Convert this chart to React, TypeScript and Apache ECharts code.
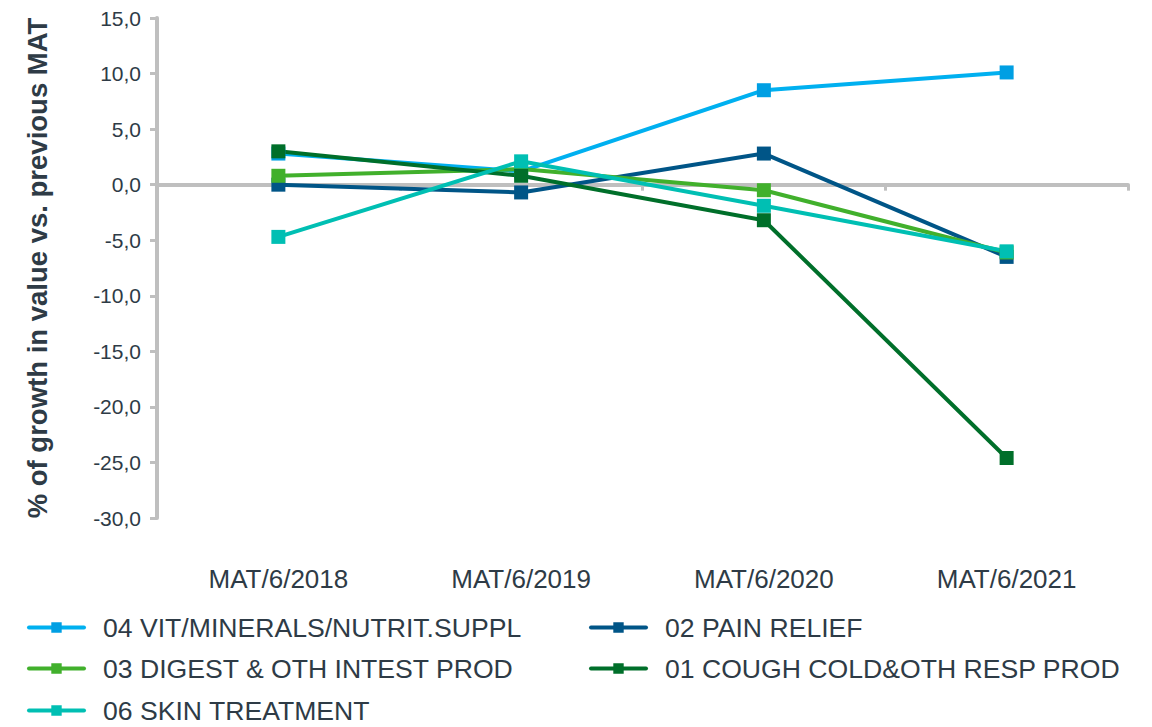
import React, { useEffect, useRef } from 'react';
import * as echarts from 'echarts';

const categories = ['MAT/6/2018', 'MAT/6/2019', 'MAT/6/2020', 'MAT/6/2021'];
const vitMinerals = [2.8, 1.2, 8.5, 10.1];
const painRelief = [0.0, -0.7, 2.8, -6.5];
const digest = [0.8, 1.4, -0.5, -6.1];
const cough = [3.0, 0.8, -3.2, -24.6];
const skin = [-4.7, 2.1, -1.9, -6.0];

const nameVit = '04 VIT/MINERALS/NUTRIT.SUPPL';
const namePain = '02 PAIN RELIEF';
const nameDigest = '03 DIGEST & OTH INTEST PROD';
const nameCough = '01 COUGH COLD&OTH RESP PROD';
const nameSkin = '06 SKIN TREATMENT';

const yTitle = '% of growth in value vs. previous MAT';

const FONT = '"Liberation Sans", Arial, sans-serif';
const TEXT = '#2e3b46';
const AXIS = '#bfbfbf';

export default function App() {
  const ref = useRef<HTMLDivElement>(null);
  useEffect(() => {
    document.body.style.margin = '0';
    if (!ref.current) return;
    const chart = echarts.init(ref.current, undefined, { renderer: 'svg' });
    const mk = (name: string, data: number[], line: string, marker: string) => ({
      name,
      type: 'line',
      data,
      xAxisIndex: 0,
      symbol: 'rect',
      symbolSize: 14,
      lineStyle: { color: line, width: 4 },
      itemStyle: { color: marker },
      emphasis: { disabled: true },
    });
    const legendText = {
      fontFamily: FONT,
      fontSize: 26.6,
      color: TEXT,
      padding: [0, 0, 0, 14],
    };
    const lg = (name: string, left: number, top: number) => ({
      orient: 'horizontal',
      left,
      top,
      padding: 0,
      itemWidth: 55,
      itemHeight: 13,
      lineStyle: { width: 4, cap: 'round' },
      textStyle: legendText,
      data: [name],
      selectedMode: false,
    });
    chart.setOption({
      animation: false,
      textStyle: { fontFamily: FONT },
      grid: { left: 157, right: 24, top: 18, bottom: 209, containLabel: false },
      xAxis: [
        {
          type: 'category',
          data: categories,
          axisLine: { onZero: true, lineStyle: { color: AXIS, width: 4 } },
          axisTick: { show: true, length: 6, lineStyle: { color: AXIS, width: 3 } },
          axisLabel: { show: false },
        },
        {
          type: 'category',
          data: categories,
          position: 'bottom',
          axisLine: { show: false, onZero: false },
          axisTick: { show: false },
          axisLabel: { show: true, margin: 48, fontFamily: FONT, fontSize: 26, color: TEXT },
        },
      ],
      yAxis: {
        type: 'value',
        min: -30,
        max: 15,
        interval: 5,
        name: yTitle,
        nameLocation: 'middle',
        nameGap: 106,
        nameRotate: 90,
        nameTextStyle: { fontFamily: FONT, fontSize: 27.5, fontWeight: 'bold', color: TEXT },
        axisLine: { show: true, lineStyle: { color: AXIS, width: 4 } },
        axisTick: { show: true, length: 7, lineStyle: { color: AXIS, width: 3 } },
        splitLine: { show: false },
        axisLabel: {
          margin: 16,
          fontFamily: FONT,
          fontSize: 21,
          color: TEXT,
          formatter: (v: number) => v.toFixed(1).replace('.', ','),
        },
      },
      legend: [
        lg(nameVit, 27, 614),
        lg(namePain, 589, 614),
        lg(nameDigest, 27, 655),
        lg(nameCough, 589, 655),
        lg(nameSkin, 27, 697),
      ],
      series: [
        mk(nameVit, vitMinerals, '#00b0f0', '#009fe3'),
        mk(namePain, painRelief, '#005587', '#005587'),
        mk(nameDigest, digest, '#41b02c', '#41b02c'),
        mk(nameCough, cough, '#006f2a', '#006f2a'),
        mk(nameSkin, skin, '#00bfb3', '#00bfb3'),
      ],
    });
    return () => chart.dispose();
  }, []);
  return <div ref={ref} style={{ width: 1152, height: 727 }} />;
}
